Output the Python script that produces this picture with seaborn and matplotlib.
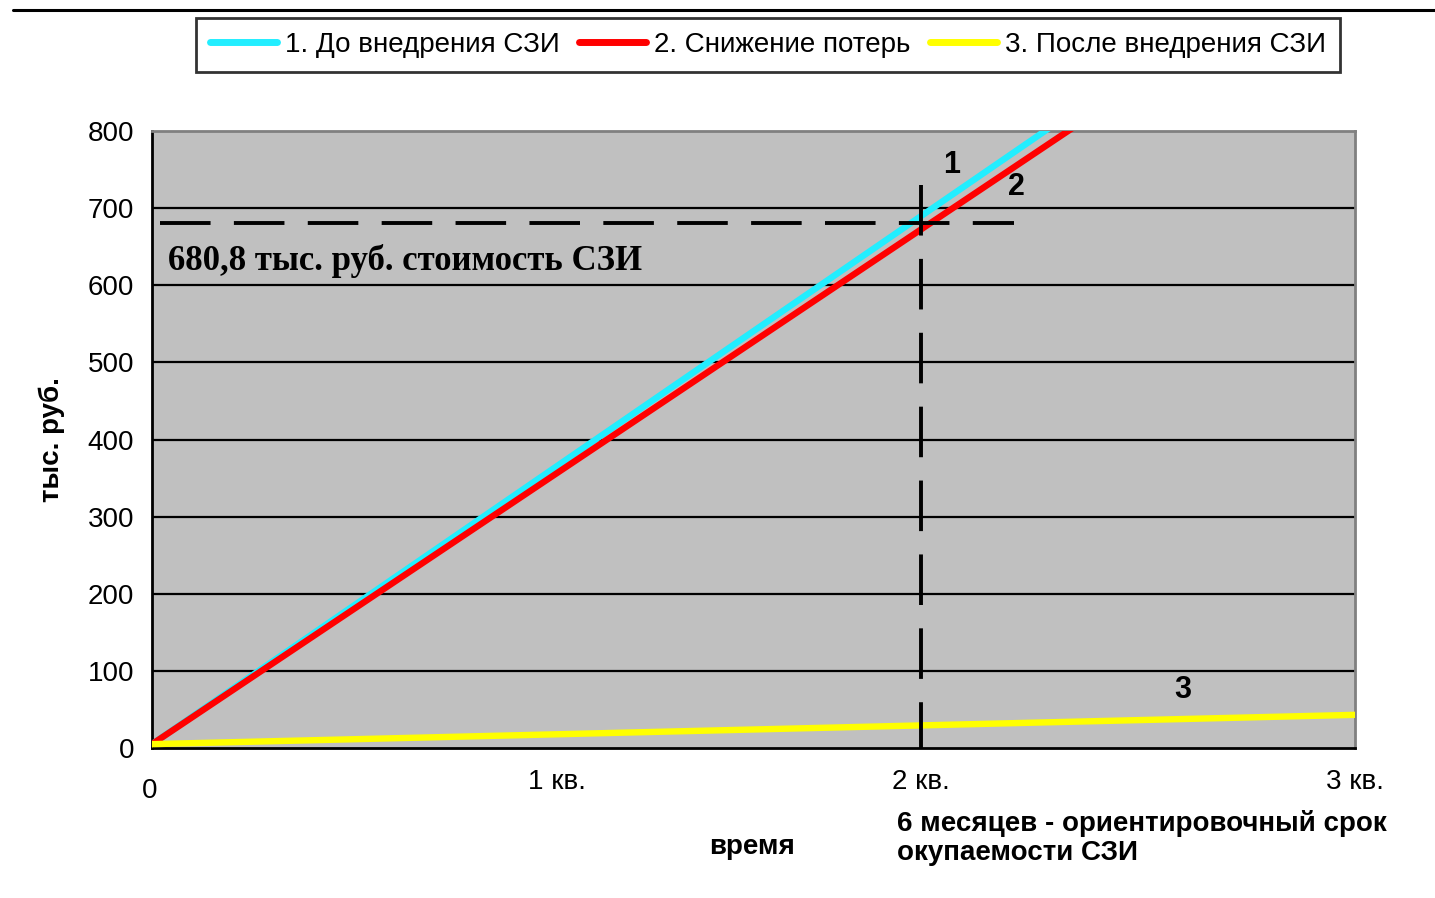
import matplotlib
matplotlib.use("Agg")
import matplotlib.pyplot as plt
import seaborn as sns
import pandas as pd
from matplotlib.lines import Line2D

# ---- data ----
time = [0.0, 3.0]                       # position along the time axis (end of 3rd quarter = 3)
before_szi = [5, 1076]                  # 1. До внедрения СЗИ
loss_reduction = [5, 1049]              # 2. Снижение потерь
after_szi = [5, 43]                     # 3. После внедрения СЗИ
series_names = ["1. До внедрения СЗИ", "2. Снижение потерь", "3. После внедрения СЗИ"]
series_colors = ["#22eeff", "#ff0000", "#ffff00"]
x_tick_pos = [0.0, 1.01, 1.918, 3.0]
x_tick_labels = ["", "1 кв.", "2 кв.", "3 кв."]
y_ticks = [0, 100, 200, 300, 400, 500, 600, 700, 800]
cost_szi = 680.8
payback_x = 1.918

df = pd.DataFrame({
    "time": time * 3,
    "value": before_szi + loss_reduction + after_szi,
    "series": [series_names[0]] * 2 + [series_names[1]] * 2 + [series_names[2]] * 2,
})

sns.set_style("white")
plt.rcParams["font.family"] = ["Liberation Sans", "DejaVu Sans"]
plt.rcParams["text.color"] = "black"
plt.rcParams["axes.labelcolor"] = "black"
plt.rcParams["xtick.color"] = "black"
plt.rcParams["ytick.color"] = "black"

fig = plt.figure(figsize=(14.35, 8.98), dpi=100)
ax = fig.add_axes([152 / 1435, 1 - 748 / 898, (1355 - 152) / 1435, (748 - 131) / 898])
ax.set_facecolor("#c0c0c0")

sns.lineplot(data=df, x="time", y="value", hue="series", palette=series_colors,
             hue_order=series_names, linewidth=4.6, ax=ax, legend=False, zorder=3)

ax.set_xlim(0, 3)
ax.set_ylim(0, 800)
ax.set_yticks(y_ticks)
ax.set_yticklabels([str(v) for v in y_ticks], fontsize=20)
ax.set_xticks(x_tick_pos)
ax.set_xticklabels(x_tick_labels, fontsize=20)
ax.tick_params(axis="both", direction="out", length=9, width=1.8, color="black", pad=4)
ax.tick_params(axis="x", pad=6)
for yv in y_ticks[1:-1]:
    ax.axhline(yv, color="black", lw=1.6, zorder=1)
ax.set_xlabel("")
ax.set_ylabel("")

for side in ["left", "bottom"]:
    ax.spines[side].set_color("black")
    ax.spines[side].set_linewidth(2.0)
for side in ["top", "right"]:
    ax.spines[side].set_color("#808080")
    ax.spines[side].set_linewidth(2.0)
    ax.spines[side].set_visible(True)

# dashed reference lines
ax.plot([0.02, 2.15], [cost_szi, cost_szi], color="black", lw=2.8, dashes=(13, 6), zorder=4)
ax.plot([payback_x, payback_x], [730, 0], color="black", lw=2.8, dashes=(13, 6), zorder=4)

# annotations inside
ax.text(0.04, 632, "680,8 тыс. руб. стоимость СЗИ", family=["Liberation Serif", "DejaVu Serif"],
        fontweight="bold", fontsize=25, va="center", ha="left", zorder=5)
ax.text(1.995, 756, "1", fontsize=22, fontweight="bold", ha="center", va="center", zorder=5)
ax.text(2.155, 727, "2", fontsize=22, fontweight="bold", ha="center", va="center", zorder=5)
ax.text(2.57, 75, "3", fontsize=22, fontweight="bold", ha="center", va="center", zorder=5)

# x '0' label (sits lower than the others)
fig.text(150 / 1435, 1 - 791 / 898, "0", fontsize=20, ha="center", va="center")

# axis titles
fig.text(52 / 1435, 1 - 440 / 898, "тыс. руб.", rotation=90, fontsize=20, fontweight="bold",
         ha="center", va="center")
fig.text(752 / 1435, 1 - 847 / 898, "время", fontsize=20, fontweight="bold", ha="center", va="center")
fig.text(897 / 1435, 1 - 838 / 898, "6 месяцев - ориентировочный срок\nокупаемости СЗИ",
         fontsize=20, fontweight="bold", ha="left", va="center", linespacing=1.15)

# legend
handles = [Line2D([0], [0], color=c, lw=5) for c in series_colors]
leg = fig.legend(handles, series_names, loc="center", bbox_to_anchor=(768 / 1435, 1 - 45 / 898),
                 ncol=3, fontsize=20, frameon=True, fancybox=False, handlelength=2.4,
                 handletextpad=0.3, columnspacing=0.7, borderpad=0.5, edgecolor="black")
leg.get_frame().set_linewidth(2.0)

# top rule
fig.add_artist(Line2D([13 / 1435, 1.0], [1 - 10 / 898, 1 - 10 / 898], color="black", lw=2.2,
                      transform=fig.transFigure))

fig.savefig("out.png", dpi=100, facecolor="white")
